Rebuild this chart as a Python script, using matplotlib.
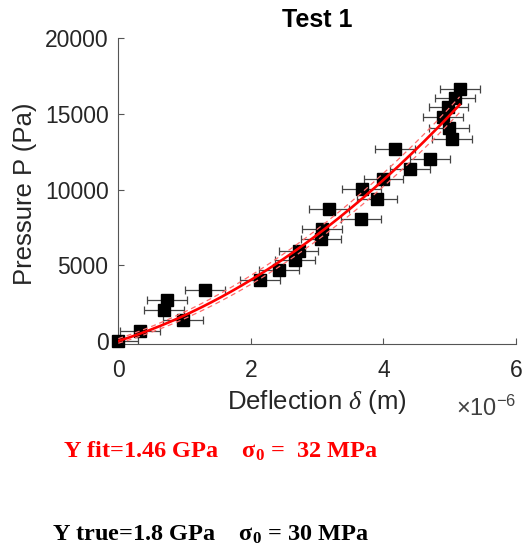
import numpy as np
import matplotlib
matplotlib.use("Agg")
import matplotlib.pyplot as plt

# measured points (deflection in 1e-6 m, pressure in Pa)
deflection = [0.00, 0.33, 0.69, 0.73, 0.98, 1.31, 2.14, 2.42, 2.67, 2.72,
              3.06, 3.07, 3.18, 3.66, 3.67, 3.90, 4.00, 4.17, 4.40, 4.70,
              4.90, 4.98, 4.99, 5.03, 5.08, 5.15]
pressure = [0, 660, 2030, 2690, 1370, 3350, 4010, 4670, 5335, 5950,
            6726, 7387, 8700, 8049, 10030, 9372, 10690, 12680, 11356, 12017,
            14769, 15430, 14067, 13340, 16052, 16650]
deflection_err = 0.3

# P = c*d^2 + a*d + b, d in 1e-6 m
fit_coef = [322, 1370, 0]
upper_coef = [322, 1441, 155]
lower_coef = [322, 1299, -147]
fit_range = (0.0, 5.15)

xticks = [0, 2, 4, 6]
yticks = [0, 5000, 10000, 15000, 20000]

fit_text = r"Y fit=1.46 GPa    $\mathbf{\sigma_0}$ =  32 MPa"
true_text = r"Y true=1.8 GPa    $\mathbf{\sigma_0}$ = 30 MPa"

plt.rcParams["font.family"] = ["Liberation Sans", "DejaVu Sans"]
plt.rcParams["mathtext.fontset"] = "custom"
plt.rcParams["mathtext.rm"] = "Liberation Serif"
plt.rcParams["mathtext.it"] = "Liberation Serif:italic"
plt.rcParams["mathtext.bf"] = "Liberation Serif:bold"
plt.rcParams["mathtext.sf"] = "Liberation Sans"

fig = plt.figure(figsize=(5.23, 5.5), dpi=100)
ax = fig.add_axes([0.2262, 0.3745, 0.9866 - 0.2262, 0.9309 - 0.3745])

ax.errorbar(deflection, pressure, xerr=deflection_err, fmt="none",
            ecolor="#444444", elinewidth=0.9, capsize=2.6, capthick=0.9,
            zorder=2)
ax.plot(deflection, pressure, "s", color="black", markersize=8,
        clip_on=False, zorder=3)

d = np.linspace(fit_range[0], fit_range[1], 200)
for coef in (upper_coef, lower_coef):
    ax.plot(d, np.polyval(coef, d), color="#ff6b6b", linewidth=0.9,
            dashes=(4, 3), zorder=4)
ax.plot(d, np.polyval(fit_coef, d), color="#ff0000", linewidth=1.9,
        zorder=5)

ax.set_xlim(0, 6)
ax.set_ylim(-200, 20000)
ax.set_xticks(xticks)
ax.set_yticks(yticks)
ax.set_xticklabels([str(t) for t in xticks])
ax.set_yticklabels([str(t) for t in yticks])

for side in ("top", "right"):
    ax.spines[side].set_visible(False)
for side in ("left", "bottom"):
    ax.spines[side].set_color("#555555")
    ax.spines[side].set_linewidth(0.8)

ax.tick_params(direction="in", length=4, width=0.8, color="#555555",
               labelcolor="#262626", labelsize=16.5)
ax.tick_params(axis="x", pad=11)
ax.tick_params(axis="y", pad=7)

ax.set_xlabel(r"Deflection $\delta$ (m)", fontsize=18.5, color="#262626")
ax.xaxis.label.set_va("center")
ax.xaxis.set_label_coords(0.5, -0.19)
ax.set_ylabel("Pressure P (Pa)", fontsize=18.5, color="#262626")
ax.yaxis.label.set_va("center")
ax.yaxis.set_label_coords(-0.235, 0.49)

ax.text(1.0, -0.235, r"$\mathsf{\times10^{-6}}$", transform=ax.transAxes,
        ha="right", va="baseline", fontsize=17, color="#404040")

ax.set_title("Test 1", fontsize=18, fontweight="bold", pad=8)

fig.text(0.121, 0.1685, fit_text, color="#ff0000", fontsize=17.5,
         fontweight="bold", family="Liberation Serif", va="baseline")
fig.text(0.100, 0.0169, true_text, color="black", fontsize=17.5,
         fontweight="bold", family="Liberation Serif", va="baseline")

fig.savefig("out.png", dpi=100)
plt.close(fig)
